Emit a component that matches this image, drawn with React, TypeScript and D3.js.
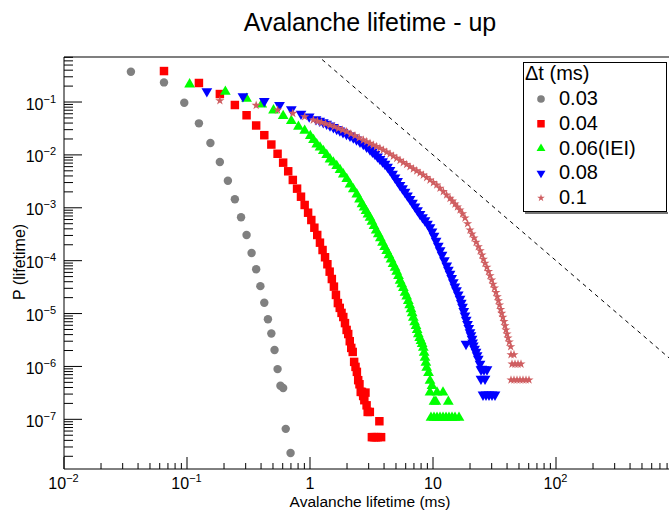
import React, { useEffect, useRef } from 'react';
import * as d3 from 'd3';

// ---------- data (lifetime in ms, probability) ----------
const seriesLabels = ['0.03', '0.04', '0.06(IEI)', '0.08', '0.1'];

const t003 = [0.035, 0.065, 0.095, 0.125, 0.155, 0.185, 0.215, 0.245, 0.275, 0.305, 0.335, 0.365, 0.395, 0.425, 0.455, 0.485, 0.515, 0.545, 0.575, 0.605, 0.635, 0.695];
const p003 = [0.374, 0.235, 0.097, 0.0395, 0.0168, 0.00735, 0.00325, 0.00145, 6.6e-4, 3.06e-4, 1.4e-4, 6.9e-5, 3.3e-5, 1.6e-5, 7.8e-6, 4.2e-6, 2.05e-6, 8.9e-7, 4.3e-7, 3.9e-7, 6.6e-8, 2.3e-8];

const t004 = [0.065, 0.125, 0.185, 0.245, 0.305, 0.365, 0.425, 0.485, 0.545, 0.605, 0.665, 0.725, 0.785, 0.845, 0.905, 0.965, 1.025, 1.085, 1.145, 1.205, 1.265, 1.325, 1.385, 1.445, 1.505, 1.565, 1.625, 1.685, 1.745, 1.805, 1.865, 1.925, 1.985, 2.045, 2.105, 2.165, 2.225, 2.285, 2.345, 2.405, 2.465, 2.525, 2.585, 2.645, 2.705, 2.765, 2.825, 2.885, 2.945, 3.065, 3.185, 3.305, 3.425, 3.545, 3.665, 3.785];
const p004 = [0.385, 0.229, 0.1415, 0.0878, 0.0562, 0.036, 0.0236, 0.0157, 0.0105, 0.00713, 0.0049, 0.00336, 0.0023, 0.00162, 0.00113, 8.07e-4, 5.87e-4, 4.2e-4, 3.06e-4, 2.19e-4, 1.59e-4, 1.16e-4, 8.55e-5, 6.2e-5, 4.5e-5, 3.23e-5, 2.25e-5, 1.58e-5, 1.28e-5, 1.03e-5, 8.6e-6, 6.6e-6, 4.9e-6, 4.1e-6, 3.0e-6, 2.24e-6, 1.88e-6, 1.22e-6, 9.8e-7, 7.9e-7, 5.5e-7, 4.6e-7, 3.3e-7, 3.3e-7, 2.76e-7, 2.3e-7, 3.2e-7, 1.84e-7, 1.38e-7, 1.38e-7, 4.6e-8, 4.6e-8, 4.6e-8, 4.6e-8, 9.2e-8, 4.6e-8];

const t006 = [0.105, 0.205, 0.305, 0.405, 0.505, 0.605, 0.705, 0.805, 0.905, 1.005, 1.068, 1.134, 1.206, 1.283, 1.367, 1.454, 1.547, 1.649, 1.754, 1.865, 1.988, 2.114, 2.249, 2.4, 2.526, 2.648, 2.75, 2.853, 2.96, 3.075, 3.19, 3.313, 3.45, 3.591, 3.73, 3.885, 4.04, 4.204, 4.38, 4.555, 4.73, 4.911, 5.07, 5.243, 5.4, 5.567, 5.74, 5.922, 6.11, 6.298, 6.46, 6.624, 6.77, 6.916, 7.09, 7.275, 7.43, 7.596, 7.79, 7.989, 8.16, 8.339, 8.47, 8.61, 8.75, 8.889, 9.194, 9.454, 9.81, 9.45, 10.78, 12.06, 10.19, 10.55, 13.32, 9.63, 10.19, 10.78, 11.4, 12.06, 12.76, 13.49, 14.27, 15.1, 16.27];
const p006 = [0.226, 0.164, 0.121, 0.0945, 0.0728, 0.0568, 0.0457, 0.0357, 0.03, 0.0238, 0.02, 0.01657, 0.01441, 0.01239, 0.0104, 0.00863, 0.0075, 0.00645, 0.00541, 0.00449, 0.00366, 0.0029, 0.00234, 0.00188, 0.0015, 0.00122, 1.06e-3, 9.09e-4, 7.8e-4, 6.79e-4, 5.7e-4, 4.73e-4, 3.9e-4, 3.3e-4, 2.78e-4, 2.29e-4, 1.9e-4, 1.59e-4, 1.33e-4, 1.1e-4, 9.1e-5, 7.7e-5, 6.5e-5, 5.37e-5, 4.4e-5, 3.74e-5, 3.2e-5, 2.6e-5, 2.2e-5, 1.81e-5, 1.5e-5, 1.26e-5, 1.06e-5, 8.73e-6, 7.2e-6, 6.09e-6, 5.1e-6, 4.24e-6, 3.6e-6, 3.17e-6, 2.8e-6, 2.37e-6, 1.9e-6, 1.53e-6, 1.23e-6, 9.9e-7, 7.9e-7, 5.6e-7, 4.5e-7, 3.37e-7, 3.37e-7, 3.37e-7, 2.25e-7, 2.25e-7, 2.25e-7, 1.12e-7, 1.12e-7, 1.12e-7, 1.12e-7, 1.12e-7, 1.12e-7, 1.12e-7, 1.12e-7, 1.12e-7, 1.12e-7];

const t008 = [0.145, 0.285, 0.425, 0.565, 0.705, 0.845, 0.985, 1.119, 1.2, 1.283, 1.366, 1.454, 1.55, 1.649, 1.75, 1.855, 1.98, 2.114, 2.25, 2.388, 2.55, 2.713, 2.89, 3.075, 3.22, 3.378, 3.54, 3.708, 3.89, 4.073, 4.27, 4.472, 4.69, 4.911, 5.15, 5.392, 5.65, 5.922, 6.2, 6.501, 6.81, 7.139, 7.48, 7.841, 8.22, 8.61, 9.02, 9.454, 9.81, 10.19, 10.6, 11.04, 11.43, 11.84, 12.38, 12.93, 13.33, 13.75, 14.18, 14.62, 15.06, 15.52, 16.04, 16.58, 16.97, 17.37, 17.78, 18.2, 18.63, 19.08, 19.53, 19.99, 20.37, 20.76, 21.0, 21.27, 18.55, 21.8, 22.37, 22.85, 23.35, 24.11, 24.89, 24.55, 25.98, 27.48, 24.55, 26.48, 25.5, 26.98, 28.53, 30.17, 31.92];
const p008 = [0.1526, 0.1227, 0.1, 0.084, 0.0697, 0.0575, 0.0509, 0.0451, 0.0423, 0.0395, 0.0369, 0.0344, 0.032, 0.0296, 0.0276, 0.0257, 0.0238, 0.0221, 0.0203, 0.0187, 0.0169, 0.01538, 0.0136, 0.0121, 0.011, 0.00995, 0.0089, 0.00801, 0.0072, 0.00645, 0.0057, 0.00496, 0.0042, 0.00358, 0.00305, 0.00258, 0.00222, 0.00191, 0.00163, 0.0014, 0.00119, 0.00101, 8.6e-4, 7.31e-4, 6.3e-4, 5.51e-4, 4.75e-4, 4.1e-4, 3.4e-4, 2.81e-4, 2.26e-4, 1.82e-4, 1.5e-4, 1.23e-4, 9.7e-5, 7.7e-5, 6.4e-5, 5.37e-5, 4.5e-5, 3.74e-5, 3.1e-5, 2.62e-5, 2.18e-5, 1.81e-5, 1.52e-5, 1.28e-5, 1.06e-5, 8.74e-6, 7.3e-6, 6.08e-6, 5.1e-6, 4.24e-6, 3.7e-6, 3.17e-6, 2.7e-6, 2.37e-6, 2.55e-6, 2.06e-6, 1.8e-6, 1.55e-6, 1.33e-6, 1.07e-6, 8.6e-7, 8.4e-7, 8.4e-7, 8.4e-7, 5.6e-7, 5.6e-7, 2.8e-7, 2.8e-7, 2.8e-7, 2.8e-7, 2.8e-7];

const t01 = [0.185, 0.365, 0.545, 0.725, 0.905, 1.064, 1.15, 1.24, 1.34, 1.454, 1.575, 1.705, 1.84, 1.988, 2.15, 2.322, 2.51, 2.713, 2.89, 3.075, 3.27, 3.473, 3.7, 3.944, 4.2, 4.472, 4.76, 5.07, 5.39, 5.735, 6.11, 6.501, 6.92, 7.37, 7.84, 8.339, 8.88, 9.454, 10.07, 10.72, 11.4, 12.13, 12.9, 13.75, 14.4, 15.1, 15.8, 16.58, 17.4, 18.2, 19.1, 19.99, 20.75, 21.54, 22.4, 23.35, 24.2, 25.02, 25.7, 26.48, 27.4, 28.27, 29.1, 30.0, 30.8, 31.62, 32.5, 33.32, 34.0, 34.74, 35.5, 36.19, 37.0, 37.78, 38.5, 39.22, 40.0, 40.72, 41.7, 42.82, 43.06, 45.55, 43.88, 46.42, 49.1, 51.93, 43.06, 45.55, 48.19, 50.97, 53.9, 57.03, 60.33];
const p01 = [0.1058, 0.0866, 0.0706, 0.0611, 0.0527, 0.0457, 0.0432, 0.041, 0.0388, 0.0367, 0.0342, 0.0318, 0.0296, 0.0275, 0.0251, 0.023, 0.021, 0.0191, 0.0178, 0.01657, 0.0154, 0.01441, 0.0134, 0.01238, 0.0113, 0.0104, 0.0095, 0.00863, 0.0079, 0.00718, 0.0066, 0.00598, 0.00546, 0.005, 0.00456, 0.00417, 0.00374, 0.00335, 0.003, 0.0027, 0.00235, 0.00203, 0.00175, 0.00151, 0.00134, 0.00118, 0.00104, 9.09e-4, 7.7e-4, 6.41e-4, 5.0e-4, 3.8e-4, 3.2e-4, 2.69e-4, 2.23e-4, 1.84e-4, 1.54e-4, 1.28e-4, 1.07e-4, 8.93e-5, 7.5e-5, 6.25e-5, 5.2e-5, 4.32e-5, 3.6e-5, 3.05e-5, 2.5e-5, 2.09e-5, 1.75e-5, 1.45e-5, 1.2e-5, 1.01e-5, 8.5e-6, 7.1e-6, 5.9e-6, 4.9e-6, 4.1e-6, 3.46e-6, 2.9e-6, 2.37e-6, 1.67e-6, 1.67e-6, 1.11e-6, 1.11e-6, 1.11e-6, 1.11e-6, 5.55e-7, 5.55e-7, 5.55e-7, 5.55e-7, 5.55e-7, 5.55e-7, 5.55e-7];

// power-law guide P = t^-2
const guideT = [1, 1000];
const guideP = [1, 1e-6];

const xMajorTicks = [0.01, 0.1, 1, 10, 100];
const xMajorLabels = [['10', '\u22122'], ['10', '\u22121'], ['1', ''], ['10', ''], ['10', '2']];
const yMajorTicks = [1e-7, 1e-6, 1e-5, 1e-4, 1e-3, 1e-2, 1e-1];
const yMajorLabels = ['\u22127', '\u22126', '\u22125', '\u22124', '\u22123', '\u22122', '\u22121'];

const seriesT = [t003, t004, t006, t008, t01];
const seriesP = [p003, p004, p006, p008, p01];
const seriesColors = ['#808080', '#ff0000', '#00ff00', '#0000ff', '#cf5e61'];

export default function App() {
  const ref = useRef<SVGSVGElement>(null);

  useEffect(() => {
    const svg = d3.select(ref.current);
    svg.selectAll('*').remove();
    const W = 669, H = 510;
    const L = 64, R = 679, T = 57, B = 469;
    const font = "'Liberation Sans', Arial, Helvetica, sans-serif";

    const x = d3.scaleLog().domain([0.01, 1000]).range([L, R]);
    const y = d3.scaleLog().domain([1.15e-8, 0.71]).range([B, T]);

    svg.append('rect').attr('x', 0).attr('y', 0).attr('width', W).attr('height', H).attr('fill', '#fff');

    const defs = svg.append('defs');
    defs.append('clipPath').attr('id', 'plotclip')
      .append('rect').attr('x', L).attr('y', T).attr('width', R - L).attr('height', B - T);

    // guide line
    const guide = guideT.map((t, i) => [t, guideP[i]] as [number, number]);
    svg.append('path')
      .attr('clip-path', 'url(#plotclip)')
      .attr('d', d3.line<[number, number]>().x(d => x(d[0])).y(d => y(d[1]))(guide) as string)
      .attr('fill', 'none').attr('stroke', '#000').attr('stroke-width', 1).attr('stroke-dasharray', '4,4');

    const types = [d3.symbolCircle, d3.symbolSquare, d3.symbolTriangle, d3.symbolTriangle, d3.symbolStar];
    const sizes = [56, 72, 50, 50, 26];

    const pts = svg.append('g');
    seriesT.forEach((ts, si) => {
      const path = d3.symbol().type(types[si]).size(sizes[si])() as string;
      const g = pts.append('g');
      ts.forEach((t, j) => {
        const px = x(t), py = y(seriesP[si][j]);
        let tr = `translate(${px},${py})`;
        if (si === 2) tr += ' translate(0,1)';
        if (si === 3) tr += ' rotate(180) translate(0,1)';
        g.append('path').attr('d', path).attr('transform', tr).attr('fill', seriesColors[si]);
      });
    });

    // frame top
    svg.append('line').attr('x1', L).attr('x2', W).attr('y1', T).attr('y2', T)
      .attr('stroke', '#555').attr('stroke-width', 1.5);

    // axes lines
    svg.append('line').attr('x1', L).attr('x2', W).attr('y1', B).attr('y2', B).attr('stroke', '#000').attr('stroke-width', 1);
    svg.append('line').attr('x1', L).attr('x2', L).attr('y1', T).attr('y2', B).attr('stroke', '#000').attr('stroke-width', 1);

    // x ticks
    const xt = svg.append('g');
    for (let e = -2; e <= 2; e++) {
      for (let m = 1; m <= 9; m++) {
        const v = m * Math.pow(10, e);
        const px = x(v);
        if (px > W) continue;
        const len = m === 1 ? 12 : 6;
        xt.append('line').attr('x1', px).attr('x2', px).attr('y1', B).attr('y2', B - len).attr('stroke', '#000');
      }
    }
    xMajorTicks.forEach((v, i) => {
      const [base, sup] = xMajorLabels[i];
      const txt = xt.append('text').attr('x', x(v) + (sup ? -0.5 : 0)).attr('y', 489)
        .attr('text-anchor', 'middle').attr('font-family', font).attr('font-size', 16).attr('fill', '#000');
      txt.append('tspan').text(base);
      if (sup) txt.append('tspan').attr('dy', -7).attr('font-size', 11).text(sup);
    });

    // y ticks
    const yt = svg.append('g');
    for (let e = -8; e <= -1; e++) {
      for (let m = 1; m <= 9; m++) {
        const v = m * Math.pow(10, e);
        const py = y(v);
        if (py < T || py > B) continue;
        const len = m === 1 ? 18 : 9;
        yt.append('line').attr('x1', L).attr('x2', L + len).attr('y1', py).attr('y2', py).attr('stroke', '#000');
      }
    }
    yMajorTicks.forEach((v, i) => {
      const txt = yt.append('text').attr('x', 56).attr('y', y(v) + 7.5)
        .attr('text-anchor', 'end').attr('font-family', font).attr('font-size', 16).attr('fill', '#000');
      txt.append('tspan').text('10');
      txt.append('tspan').attr('dy', -7).attr('font-size', 11).text(yMajorLabels[i]);
    });

    // titles
    svg.append('text').attr('x', 370).attr('y', 31).attr('text-anchor', 'middle')
      .attr('font-family', font).attr('font-size', 25).text('Avalanche lifetime - up');
    svg.append('text').attr('x', 370).attr('y', 506.5).attr('text-anchor', 'middle')
      .attr('font-family', font).attr('font-size', 15.5).text('Avalanche lifetime (ms)');
    svg.append('text').attr('transform', 'translate(25,300) rotate(-90)').attr('text-anchor', 'start')
      .attr('font-family', font).attr('font-size', 16).text('P (lifetime)');

    // legend
    const lg = svg.append('g');
    lg.append('line').attr('x1', 525).attr('x2', 668).attr('y1', 213).attr('y2', 213).attr('stroke', '#777').attr('stroke-width', 2);
    lg.append('rect').attr('x', 523.5).attr('y', 62.5).attr('width', 143).attr('height', 149)
      .attr('fill', '#fff').attr('stroke', '#000').attr('stroke-width', 1);
    lg.append('text').attr('x', 525).attr('y', 80).attr('font-family', font).attr('font-size', 20).text('\u0394t (ms)');
    const legSizes = [46, 56, 34, 34, 18];
    seriesLabels.forEach((lab, i) => {
      const by = 105 + i * 24.75;
      let tr = `translate(541,${by - 6})`;
      if (i === 3) tr += ' rotate(180)';
      const path = d3.symbol().type(types[i]).size(legSizes[i])() as string;
      lg.append('path').attr('d', path).attr('transform', tr).attr('fill', seriesColors[i]);
      lg.append('text').attr('x', 559).attr('y', by).attr('font-family', font).attr('font-size', 20).text(lab);
    });
  }, []);

  return <svg ref={ref} width={669} height={510} style={{ position: 'absolute', left: 0, top: 0 }} />;
}
